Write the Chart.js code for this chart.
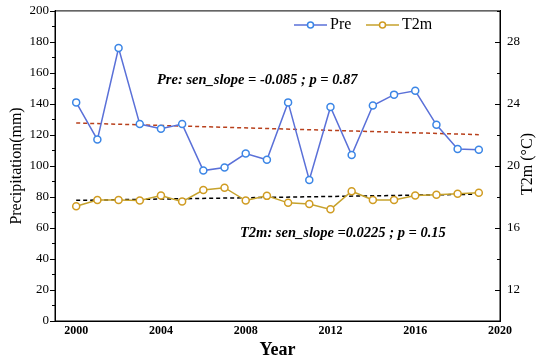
<!DOCTYPE html>
<html>
<head>
<meta charset="utf-8">
<script src="https://cdn.jsdelivr.net/npm/chart.js@4.4.1/dist/chart.umd.min.js"></script>
<style>
  html, body { margin: 0; padding: 0; background: #fff; }
  #wrap { width: 550px; height: 361px; }
</style>
</head>
<body>
<div id="wrap"><canvas id="chart-pre-t2m"></canvas></div>
<script>
var years = [2000, 2001, 2002, 2003, 2004, 2005, 2006, 2007, 2008, 2009, 2010, 2011, 2012, 2013, 2014, 2015, 2016, 2017, 2018, 2019];
var preValues = [141, 117, 176, 127, 124, 127, 97, 99, 108, 104, 141, 91, 138, 107, 139, 146, 148.5, 126.5, 111, 110.5];
var t2mValues = [17.4, 17.8, 17.8, 17.77, 18.1, 17.7, 18.45, 18.6, 17.77, 18.07, 17.62, 17.55, 17.2, 18.37, 17.8, 17.8, 18.1, 18.15, 18.2, 18.27];
var trendYears = [2000, 2019];
var preTrend = [127.7, 120.2];
var t2mTrend = [17.78, 18.18];
var xTicks = [2000, 2004, 2008, 2012, 2016, 2020];
var preTicks = [0, 20, 40, 60, 80, 100, 120, 140, 160, 180, 200];
var t2mTicks = [12, 16, 20, 24, 28];

var serif = "'Liberation Serif', 'Times New Roman', serif";
var preColor = '#5a70d8';
var t2mColor = '#c6a22c';

function pts(xs, ys) {
    return xs.map(function(x, i) { return {x: x, y: ys[i]}; });
}

// frame, minor ticks, legend, right title and slope notes
var extras = {
    id: 'extras',
    afterDraw: function(chart) {
        var c = chart.ctx, a = chart.chartArea;
        var y = chart.scales.y, y2 = chart.scales.y2;
        c.save();
        c.strokeStyle = '#000';
        c.lineWidth = 1;
        c.strokeRect(a.left, a.top, a.right - a.left, a.bottom - a.top);
        c.beginPath();
        for (var v = 0; v <= 200; v += 10) {
            var py = Math.round(y.getPixelForValue(v)) + 0.5;
            var len = (v % 20 === 0) ? 5 : 3;
            c.moveTo(a.left, py); c.lineTo(a.left - len, py);
        }
        for (var t = 10; t <= 30; t += 2) {
            var qy = Math.round(y2.getPixelForValue(t)) + 0.5;
            var l2 = ((t - 12) % 4 === 0) ? 5 : 3;
            c.moveTo(a.right, qy); c.lineTo(a.right - l2, qy);
        }
        c.stroke();

        // legend
        var items = [
            {label: 'Pre', x: 294, color: preColor, point: '#3b86e6'},
            {label: 'T2m', x: 366, color: t2mColor, point: '#d09c22'}
        ];
        var ly = 25;
        items.forEach(function(it) {
            c.strokeStyle = it.color;
            c.lineWidth = 1.5;
            c.beginPath(); c.moveTo(it.x, ly); c.lineTo(it.x + 33, ly); c.stroke();
            c.fillStyle = '#fff';
            c.strokeStyle = it.point;
            c.beginPath(); c.arc(it.x + 16.5, ly, 3, 0, Math.PI * 2); c.fill(); c.stroke();
            c.fillStyle = '#000';
            c.font = '16px ' + serif;
            c.textBaseline = 'middle';
            c.textAlign = 'left';
            c.fillText(it.label, it.x + 36, ly);
        });

        c.font = 'italic bold 14.5px ' + serif;
        c.fillStyle = '#000';
        c.textBaseline = 'middle';
        c.fillText('Pre: sen_slope = -0.085 ; p = 0.87', 157, 80);
        c.fillText('T2m: sen_slope =0.0225 ; p = 0.15', 240, 233);

        // right axis title, reading bottom to top
        c.translate(528, 164);
        c.rotate(-Math.PI / 2);
        c.font = '16px ' + serif;
        c.textAlign = 'center';
        c.fillText('T2m (°C)', 0, 0);
        c.restore();
    }
};

var ctx = document.getElementById('chart-pre-t2m');
var chart = new Chart(ctx, {
    type: 'line',
    data: {
        datasets: [{
            label: 'Pre',
            data: pts(years, preValues),
            yAxisID: 'y',
            borderColor: preColor,
            borderWidth: 1.5,
            pointBorderColor: '#3b86e6',
            pointBackgroundColor: '#fff',
            pointRadius: 3.5,
            pointBorderWidth: 1.5,
            tension: 0
        }, {
            label: 'T2m',
            data: pts(years, t2mValues),
            yAxisID: 'y2',
            borderColor: t2mColor,
            borderWidth: 1.5,
            pointBorderColor: '#d09c22',
            pointBackgroundColor: '#fff',
            pointRadius: 3.5,
            pointBorderWidth: 1.5,
            tension: 0
        }, {
            label: 'Pre trend',
            data: pts(trendYears, preTrend),
            yAxisID: 'y',
            borderColor: '#b8401c',
            borderWidth: 1.5,
            borderDash: [4, 3],
            pointRadius: 0
        }, {
            label: 'T2m trend',
            data: pts(trendYears, t2mTrend),
            yAxisID: 'y2',
            borderColor: '#000',
            borderWidth: 1.5,
            borderDash: [4, 3],
            pointRadius: 0
        }]
    },
    options: {
        responsive: true,
        maintainAspectRatio: false,
        animation: false,
        layout: { padding: { top: 10, left: 0, right: 0, bottom: 0 } },
        plugins: {
            legend: { display: false },
            tooltip: { enabled: false }
        },
        scales: {
            x: {
                type: 'linear',
                min: 1999,
                max: 2020,
                grid: { display: false, drawTicks: false, tickLength: 0 },
                border: { display: true, color: '#000', width: 1 },
                afterBuildTicks: function(s) { s.ticks = xTicks.map(function(v) { return {value: v}; }); },
                afterFit: function(s) { s.height = 40; },
                ticks: {
                    color: '#000',
                    padding: 3,
                    maxRotation: 0,
                    font: { family: serif, size: 12, weight: 'bold' },
                    callback: function(v) { return String(v); }
                },
                title: {
                    display: true,
                    text: 'Year',
                    color: '#000',
                    padding: 0,
                    font: { family: serif, size: 18, weight: 'bold' }
                }
            },
            y: {
                position: 'left',
                min: 0,
                max: 200,
                grid: { display: false, drawTicks: false, tickLength: 0 },
                border: { display: true, color: '#000', width: 1 },
                afterBuildTicks: function(s) { s.ticks = preTicks.map(function(v) { return {value: v}; }); },
                afterFit: function(s) { s.width = 55; },
                ticks: {
                    color: '#000',
                    padding: 6,
                    font: { family: serif, size: 13, lineHeight: 0.6 }
                },
                title: {
                    display: true,
                    text: 'Precipitation(mm)',
                    color: '#000',
                    padding: { top: 7, bottom: 0 },
                    font: { family: serif, size: 16 }
                }
            },
            y2: {
                position: 'right',
                min: 10,
                max: 30,
                grid: { display: false, drawTicks: false, tickLength: 0 },
                border: { display: true, color: '#000', width: 1 },
                afterBuildTicks: function(s) { s.ticks = t2mTicks.map(function(v) { return {value: v}; }); },
                afterFit: function(s) { s.width = 50; },
                ticks: {
                    color: '#000',
                    padding: 7,
                    font: { family: serif, size: 13, lineHeight: 0.6 }
                }
            }
        }
    },
    plugins: [extras]
});
</script>
</body>
</html>
